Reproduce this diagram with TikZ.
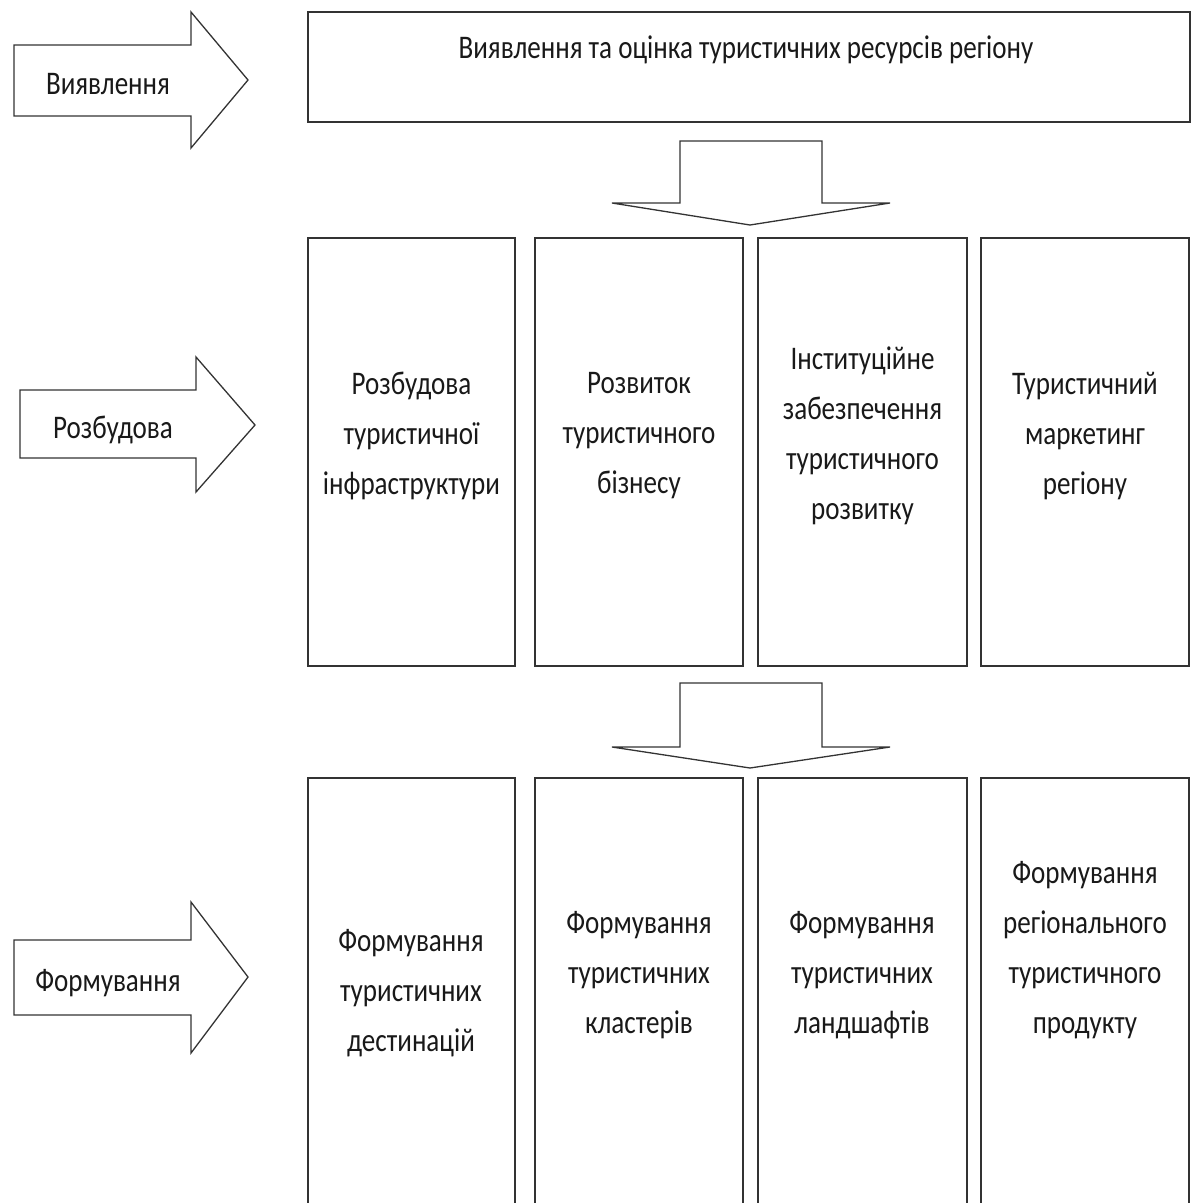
\documentclass[tikz,border=0pt]{standalone}
\usepackage{fontspec}
\setmainfont{Carlito}[FakeStretch=0.82]
\usetikzlibrary{positioning}

\begin{document}
\begin{tikzpicture}[
  x=1pt, y=-1pt,
  font=\fontsize{33}{50}\selectfont,
  box/.style    = {draw=black!80, line width=1.8pt, inner sep=0pt},
  blk/.style    = {draw=black!80, line width=1.3pt, line join=miter, fill=white},
  txt/.style    = {align=center, inner sep=0pt, text=black!90}
]
\useasboundingbox (0,0) rectangle (1198,1203);

% ------------------------------------------------------------ left arrows --
\draw[blk] (14,45) -- (191,45) -- (191,12) -- (248,80) -- (191,148)
           -- (191,116) -- (14,116) -- cycle;
\draw[blk] (20,390) -- (196,390) -- (196,357) -- (255,425) -- (196,492)
           -- (196,458) -- (20,458) -- cycle;
\draw[blk] (14,940) -- (191,940) -- (191,902) -- (248,977) -- (191,1053)
           -- (191,1015) -- (14,1015) -- cycle;
\node[txt] (a1) at (108,84)  {Виявлення};
\node[txt] (a2) at (113,430) {Розбудова};
\node[txt] (a3) at (108,983) {Формування};

% ---------------------------------------------------------------- top box --
\node[box, minimum width=882, minimum height=110] (top) at (749,67) {};
\node[txt] (ttop) at (746,50) {Виявлення та оцінка туристичних ресурсів регіону};

% ------------------------------------------------------------ down arrows --
\draw[blk] (680,141) -- (822,141) -- (822,203) -- (890,203) -- (750,225)
           -- (612,203) -- (680,203) -- cycle;
\draw[blk] (680,683) -- (822,683) -- (822,747) -- (890,747) -- (750,768)
           -- (612,747) -- (680,747) -- cycle;

% ------------------------------------------------------------- middle row --
\node[box, minimum width=207, minimum height=428] (m1) at (411.5,452) {};
\node[box, minimum width=208, minimum height=428] (m2) at (639,452)   {};
\node[box, minimum width=209, minimum height=428] (m3) at (862.5,452) {};
\node[box, minimum width=208, minimum height=428] (m4) at (1085,452)  {};

\node[txt] (tm1) at ([yshift=16pt]m1.center) {Розбудова\\туристичної\\інфраструктури};
\node[txt] (tm2) at ([yshift=16pt]m2.center) {Розвиток\\туристичного\\бізнесу};
\node[txt] (tm3) at ([yshift=16pt]m3.center) {Інституційне\\забезпечення\\туристичного\\розвитку};
\node[txt] (tm4) at ([yshift=16pt]m4.center) {Туристичний\\маркетинг\\регіону};

% ------------------------------------------------------------- bottom row --
\node[box, minimum width=207, minimum height=440] (f1) at (411.5,998) {};
\node[box, minimum width=208, minimum height=440] (f2) at (639,998)   {};
\node[box, minimum width=209, minimum height=440] (f3) at (862.5,998) {};
\node[box, minimum width=208, minimum height=440] (f4) at (1085,998)  {};

\node[txt] (tf1) at (411,993)  {Формування\\туристичних\\дестинацій};
\node[txt] (tf2) at (639,975)  {Формування\\туристичних\\кластерів};
\node[txt] (tf3) at (862,975)  {Формування\\туристичних\\ландшафтів};
\node[txt] (tf4) at (1085,950) {Формування\\регіонального\\туристичного\\продукту};

\end{tikzpicture}
\end{document}
